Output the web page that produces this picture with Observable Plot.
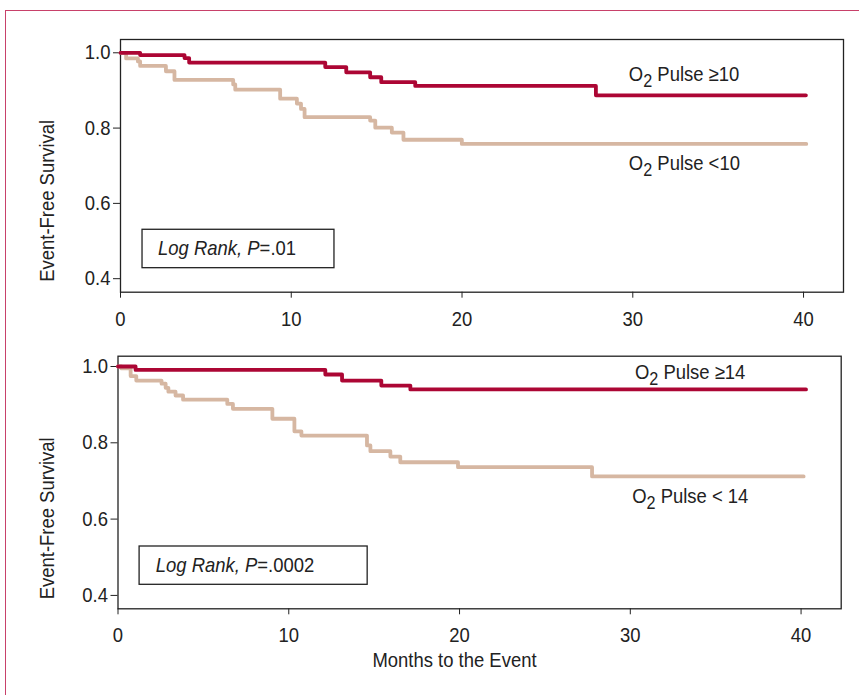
<!DOCTYPE html>
<html>
<head>
<meta charset="utf-8">
<script src="https://cdn.jsdelivr.net/npm/d3@7"></script>
<script src="https://cdn.jsdelivr.net/npm/@observablehq/plot@0.6"></script>
<style>
  body { margin: 0; background: #fff; }
  #wrap { position: relative; width: 859px; height: 695px; overflow: hidden; background: #fff; }
  .bt { position: absolute; left: 5px; top: 10px; width: 860px; height: 0; border-top: 1.5px solid #c8416a; }
  .bl { position: absolute; left: 5px; top: 10px; width: 0; height: 700px; border-left: 1.5px solid #c8416a; }
  .panel { position: absolute; left: 0; }
</style>
</head>
<body>
<div id="wrap">
  <div class="bt"></div>
  <div class="bl"></div>
  <div class="panel" id="top" style="top:0px"></div>
  <div class="panel" id="bottom" style="top:330px"></div>
</div>
<script>
// ---------- data (months, event-free survival) ----------
const xTicks = [0, 10, 20, 30, 40];
const yTicks = [0.4, 0.6, 0.8, 1.0];

// Top panel: O2 pulse cut-off 10
const topHighMonths = [0, 1.15, 3.75, 4.02, 11.99, 13.22, 14.62, 15.27, 17.26, 27.84, 40.14];
const topHighSurv   = [1.0, 0.994, 0.986, 0.974, 0.962, 0.948, 0.935, 0.922, 0.912, 0.887, 0.887];
const topLowMonths  = [0, 0.33, 1.02, 1.15, 2.66, 3.16, 6.6, 6.72, 9.35, 10.33, 10.57, 10.78, 14.62, 14.92, 15.89, 16.57, 19.99, 40.16];
const topLowSurv    = [1.0, 0.985, 0.977, 0.965, 0.951, 0.928, 0.916, 0.902, 0.878, 0.865, 0.851, 0.829, 0.82, 0.801, 0.788, 0.769, 0.758, 0.758];

// Bottom panel: O2 pulse cut-off 14
const botHighMonths = [0, 1.03, 12.14, 13.12, 15.42, 17.12, 40.29];
const botHighSurv   = [1.0, 0.991, 0.979, 0.963, 0.950, 0.940, 0.940];
const botLowMonths  = [0, 0.2, 0.74, 1.07, 2.55, 2.79, 2.95, 3.37, 3.81, 6.40, 6.73, 9.04, 10.33, 10.74, 14.58, 14.78, 15.95, 16.53, 19.91, 27.76, 40.15];
const botLowSurv    = [1.0, 0.995, 0.975, 0.963, 0.955, 0.944, 0.934, 0.924, 0.913, 0.902, 0.889, 0.863, 0.830, 0.819, 0.793, 0.778, 0.764, 0.749, 0.736, 0.712, 0.712];

const topLabels = ["≥10", "<10"];
const botLabels = ["≥14", "< 14"];
const topPValue = ".01";
const botPValue = ".0002";
const yTitle = "Event-Free Survival";
const xTitle = "Months to the Event";

// ---------- styling ----------
const RED = "#ac0634";
const TAN = "#d6b7a2";
const INK = "#222";
const FONT = "'Liberation Sans',Arial,Helvetica,sans-serif";
const FS = "20.5px";
const SUBFS = "18px";
const CONDENSE = 0.9;   // horizontal squeeze to mimic a condensed face

const toRows = (ms, ss) => ms.map((m, i) => ({month: m, surv: ss[i]}));

function scaleFn(s) {
  return s.apply ? (v) => s.apply(v) : d3.scaleLinear(s.domain, s.range);
}

function condenseText(svgNode) {
  d3.select(svgNode).selectAll("text").each(function () {
    const el = d3.select(this);
    const x = parseFloat(el.attr("x")) || 0;
    const prev = el.attr("transform") || "";
    el.attr("transform", `${prev} translate(${x},0) scale(${CONDENSE},1) translate(${-x},0)`.trim());
  });
}

function panel(opts) {
  const p = Plot.plot({
    width: 859,
    height: opts.height,
    marginLeft: opts.ml,
    marginRight: opts.mr,
    marginTop: opts.mt,
    marginBottom: opts.mb,
    style: {fontSize: FS, fontFamily: FONT, color: INK, background: "transparent"},
    x: {domain: opts.xdom, ticks: xTicks, tickSize: 6, tickPadding: 13, label: null},
    y: {domain: opts.ydom, ticks: yTicks, tickSize: 7, tickPadding: 3, tickFormat: d => d.toFixed(1), label: null},
    marks: [
      Plot.frame({stroke: INK, strokeWidth: 1.3}),
      Plot.line(toRows(opts.lowM, opts.lowS), {x: "month", y: "surv", curve: "step-after", stroke: TAN, strokeWidth: 3.8}),
      Plot.line(toRows(opts.highM, opts.highS), {x: "month", y: "surv", curve: "step-after", stroke: RED, strokeWidth: 3.8})
    ]
  });
  const sx = scaleFn(p.scale("x"));
  const sy = scaleFn(p.scale("y"));
  const svg = d3.select(p);

  // series labels with subscript
  function o2label(mx, vy, suffix) {
    const t = svg.append("text")
      .attr("x", sx(mx)).attr("y", sy(vy))
      .attr("text-anchor", "start")
      .attr("fill", INK)
      .style("font-size", FS).style("font-family", FONT);
    t.append("tspan").text("O");
    t.append("tspan").attr("dy", 6).style("font-size", SUBFS).text("2");
    t.append("tspan").attr("dy", -6).text(" Pulse " + suffix);
  }
  o2label(opts.lab1[0], opts.lab1[1], opts.labels[0]);
  o2label(opts.lab2[0], opts.lab2[1], opts.labels[1]);

  // Log rank box
  const b = opts.box;
  svg.append("rect")
    .attr("x", sx(b.x0)).attr("y", sy(b.y1))
    .attr("width", sx(b.x1) - sx(b.x0)).attr("height", sy(b.y0) - sy(b.y1))
    .attr("fill", "none").attr("stroke", INK).attr("stroke-width", 1.3);
  const lt = svg.append("text")
    .attr("x", sx(b.tx)).attr("y", sy(b.ty))
    .attr("text-anchor", "start").attr("fill", INK)
    .style("font-size", FS).style("font-family", FONT);
  lt.append("tspan").style("font-style", "italic").text("Log Rank, P");
  lt.append("tspan").text("=" + opts.p);

  // y title
  svg.append("text")
    .attr("transform", `translate(54,${opts.yTitleY}) rotate(-90)`)
    .attr("text-anchor", "middle").attr("fill", INK)
    .style("font-size", FS).style("font-family", FONT)
    .text(yTitle);

  if (opts.xTitleY) {
    svg.append("text")
      .attr("x", 454.5).attr("y", opts.xTitleY)
      .attr("text-anchor", "middle").attr("fill", INK)
      .style("font-size", FS).style("font-family", FONT)
      .text(xTitle);
  }
  condenseText(p);
  return p;
}

document.getElementById("top").appendChild(panel({
  height: 340, ml: 120, mr: 16, mt: 39, mb: 48.3,
  xdom: [0, 42.34], ydom: [0.3641, 1.0353],
  lowM: topLowMonths, lowS: topLowSurv, highM: topHighMonths, highS: topHighSurv,
  labels: topLabels, lab1: [29.8, 0.923], lab2: [29.8, 0.687],
  box: {x0: 1.29, x1: 12.53, y0: 0.4279, y1: 0.5299, tx: 2.23, ty: 0.4616},
  p: topPValue, yTitleY: 200.8
}));

document.getElementById("bottom").appendChild(panel({
  height: 365, ml: 117.5, mr: 18.3, mt: 25.7, mb: 86.7,
  xdom: [0, 42.35], ydom: [0.3649, 1.027],
  lowM: botLowMonths, lowS: botLowSurv, highM: botHighMonths, highS: botHighSurv,
  labels: botLabels, lab1: [30.3, 0.965], lab2: [30.14, 0.642],
  box: {x0: 1.265, x1: 14.62, y0: 0.4278, y1: 0.5282, tx: 2.24, ty: 0.4608},
  p: botPValue, yTitleY: 188.3, xTitleY: 337
}));
</script>
</body>
</html>
